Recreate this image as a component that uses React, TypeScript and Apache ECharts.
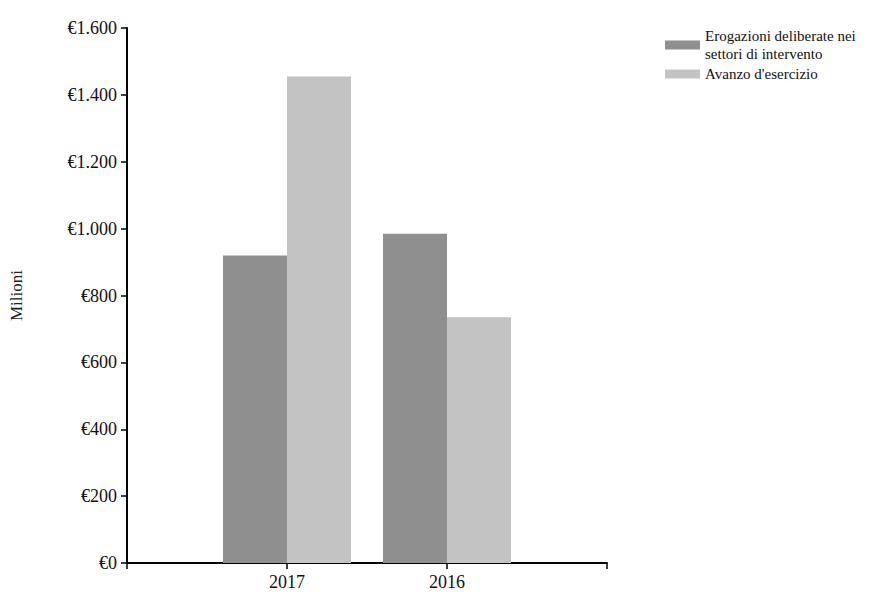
import React, { useEffect, useRef } from "react";
import * as echarts from "echarts";

// Padding slots on both ends keep the year ticks where the axis places them.
const years = ["", "2017", "2016", ""];
const erogazioni = [null, 920, 985, null];
const avanzo = [null, 1455, 735, null];
const seriesNames = ["Erogazioni deliberate nei\nsettori di intervento", "Avanzo d'esercizio"];
const yTicks = [0, 200, 400, 600, 800, 1000, 1200, 1400, 1600];

const fmtEuro = (v: number) =>
  "€" + String(v).replace(/\B(?=(\d{3})+(?!\d))/g, ".");

export default function App() {
  const ref = useRef<HTMLDivElement>(null);
  useEffect(() => {
    if (!ref.current) return;
    const chart = echarts.init(ref.current, null, { renderer: "svg" });
    const font = "'Liberation Serif', 'Times New Roman', serif";
    chart.setOption({
      animation: false,
      backgroundColor: "#ffffff",
      textStyle: { fontFamily: font },
      legend: {
        orient: "vertical",
        left: 660,
        top: 22,
        itemWidth: 35,
        itemHeight: 9,
        itemGap: 2,
        icon: "rect",
        textStyle: { fontFamily: font, fontSize: 15, color: "#111", lineHeight: 18 },
        data: seriesNames,
      },
      grid: { left: 125, right: 287, top: 28, bottom: 34, containLabel: false },
      xAxis: {
        type: "category",
        data: years,
        boundaryGap: false,
        axisLine: { lineStyle: { color: "#000", width: 2 } },
        axisTick: { length: 6, lineStyle: { color: "#000", width: 1.5 } },
        axisLabel: { color: "#111", fontSize: 18, fontFamily: font, margin: 10 },
        splitLine: { show: false },
      },
      yAxis: {
        type: "value",
        min: yTicks[0],
        max: yTicks[yTicks.length - 1],
        interval: 200,
        name: "Milioni",
        nameLocation: "middle",
        nameGap: 102,
        nameTextStyle: { fontFamily: font, fontSize: 17, color: "#222" },
        axisLine: { show: true, lineStyle: { color: "#000", width: 2 } },
        axisTick: { show: true, length: 6, lineStyle: { color: "#000", width: 1.5 } },
        axisLabel: {
          color: "#111",
          fontSize: 18,
          fontFamily: font,
          margin: 10,
          formatter: (v: number) => fmtEuro(v),
        },
        splitLine: { show: false },
      },
      series: [
        {
          name: seriesNames[0],
          type: "bar",
          data: erogazioni,
          barWidth: 64,
          barGap: "0%",
          itemStyle: { color: "#8f8f8f" },
        },
        {
          name: seriesNames[1],
          type: "bar",
          data: avanzo,
          barWidth: 64,
          barGap: "0%",
          itemStyle: { color: "#c3c3c3" },
        },
      ],
    });
    return () => chart.dispose();
  }, []);
  return <div ref={ref} style={{ width: 894, height: 597, margin: -8 }} />;
}
